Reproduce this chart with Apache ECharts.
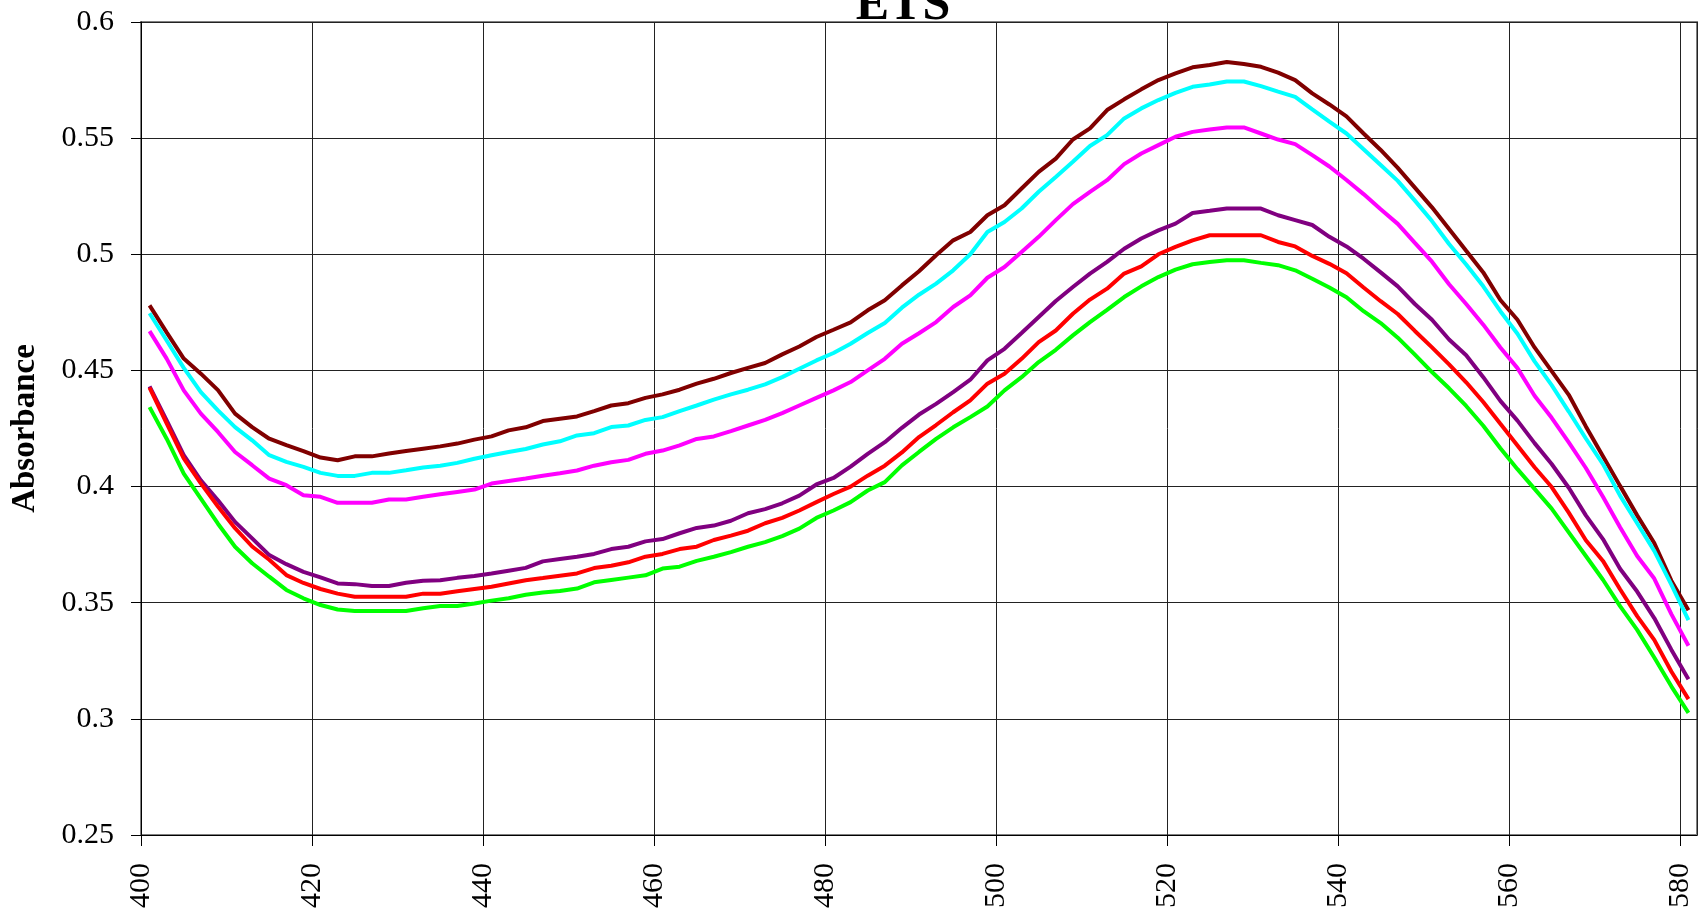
<!DOCTYPE html>
<html>
<head>
<meta charset="utf-8">
<script src="https://cdn.jsdelivr.net/npm/echarts@6/dist/echarts.min.js"></script>
<style>
html,body{margin:0;padding:0;background:#fff;}
#chart{width:1699px;height:913px;}
</style>
</head>
<body>
<div id="chart"></div>
<script>
const titleText = 'ETS';
const yAxisTitle = 'Absorbance';
const xTicks = [400, 420, 440, 460, 480, 500, 520, 540, 560, 580];
const yTicks = [0.25, 0.3, 0.35, 0.4, 0.45, 0.5, 0.55, 0.6];

const wavelength = [
401,403,405,407,409,411,413,415,417,419,421,423,425,427,429,431,433,435,437,439,441,443,445,
447,449,451,453,455,457,459,461,463,465,467,469,471,473,475,477,479,481,483,485,487,489,491,
493,495,497,499,501,503,505,507,509,511,513,515,517,519,521,523,525,527,529,531,533,535,537,
539,541,543,545,547,549,551,553,555,557,559,561,563,565,567,569,571,573,575,577,579,581
];

const darkRed = [
0.478,0.4664,0.4551,0.4486,0.4415,0.4314,0.4256,0.4206,0.4178,0.4153,0.4125,0.4113,0.413,0.413,0.4142,0.4153,0.4163,0.4173,0.4185,0.4202,0.4216,0.4242,0.4255,
0.4282,0.4292,0.4302,0.4325,0.4349,0.4359,0.4382,0.4397,0.4417,0.4443,0.4464,0.4489,0.4511,0.4532,0.4569,0.4603,0.4644,0.4675,0.4707,0.4759,0.4802,0.4866,0.4927,
0.4996,0.506,0.5096,0.5168,0.5211,0.5283,0.5355,0.5412,0.5494,0.5542,0.5621,0.5667,0.571,0.575,0.5779,0.5805,0.5815,0.5828,0.5819,0.5807,0.5782,0.575,0.5693,
0.5645,0.5594,0.552,0.5449,0.5372,0.5287,0.5202,0.5109,0.5015,0.4922,0.4803,0.4718,0.4599,0.4497,0.4395,0.4259,0.4131,0.4003,0.3876,0.3757,0.3595,0.3468
];

const cyan = [
0.4746,0.4629,0.4511,0.4407,0.4328,0.4256,0.4199,0.4135,0.4106,0.4085,0.4059,0.4046,0.4046,0.4059,0.4059,0.407,0.4082,0.409,0.4102,0.412,0.4135,0.4149,0.4162,
0.4181,0.4195,0.422,0.423,0.4256,0.4263,0.4287,0.4299,0.4325,0.4349,0.4374,0.4397,0.4417,0.444,0.4471,0.4507,0.4543,0.4575,0.4615,0.4661,0.4704,0.477,0.4826,
0.4874,0.4931,0.5,0.5096,0.5139,0.5197,0.5269,0.5333,0.5398,0.5466,0.5513,0.5585,0.5628,0.5664,0.5695,0.5721,0.5731,0.5744,0.5744,0.5724,0.57,0.5678,0.5624,
0.5571,0.552,0.5452,0.5384,0.5316,0.5231,0.5143,0.5044,0.4956,0.4862,0.4755,0.4658,0.4539,0.4437,0.4323,0.4207,0.4097,0.3961,0.3842,0.3723,0.3578,0.3425
];

const magenta = [
0.4669,0.4551,0.4414,0.4314,0.4235,0.4149,0.4092,0.4034,0.4006,0.3963,0.3956,0.393,0.393,0.393,0.3944,0.3944,0.3956,0.3967,0.3977,0.3987,0.4013,0.4024,0.4035,
0.4047,0.4057,0.4069,0.409,0.4105,0.4115,0.4141,0.4155,0.4177,0.4205,0.4216,0.4239,0.4263,0.4287,0.4316,0.4349,0.4382,0.4414,0.445,0.45,0.455,0.4615,0.466,
0.4708,0.4773,0.4823,0.4899,0.4945,0.501,0.5075,0.5147,0.5216,0.5269,0.5319,0.5388,0.5434,0.547,0.5506,0.5527,0.5537,0.5546,0.5546,0.552,0.5494,0.5474,0.5427,
0.5378,0.532,0.5259,0.5194,0.5131,0.5049,0.4968,0.4871,0.4786,0.4697,0.4599,0.451,0.4391,0.4296,0.419,0.408,0.3956,0.3825,0.3701,0.3604,0.3451,0.3315
];

const purple = [
0.4431,0.4285,0.4135,0.4027,0.3941,0.3848,0.3777,0.3705,0.3666,0.3633,0.3609,0.3583,0.358,0.3572,0.3572,0.3586,0.3595,0.3597,0.3607,0.3615,0.3626,0.3638,0.365,
0.3678,0.3688,0.3698,0.371,0.3731,0.3741,0.3764,0.3774,0.3799,0.3822,0.3832,0.3853,0.3885,0.3903,0.3928,0.3961,0.4009,0.4037,0.4086,0.4141,0.4191,0.4253,0.431,
0.4356,0.4407,0.446,0.4543,0.4593,0.4661,0.473,0.4799,0.4859,0.4917,0.4967,0.5024,0.5068,0.5103,0.5132,0.5178,0.5187,0.5197,0.5197,0.5197,0.5168,0.5147,0.5126,
0.5075,0.5034,0.4981,0.4922,0.4862,0.4786,0.4718,0.4633,0.4565,0.4471,0.4369,0.4284,0.4187,0.4097,0.3995,0.3876,0.3774,0.3646,0.3548,0.3434,0.3298,0.317
];

const red = [
0.4426,0.4272,0.4121,0.4014,0.3914,0.3821,0.3742,0.3685,0.3619,0.3585,0.3559,0.3539,0.3526,0.3526,0.3526,0.3526,0.3539,0.3539,0.3549,0.3559,0.3569,0.3583,0.3597,
0.3606,0.3616,0.3626,0.3649,0.3659,0.3674,0.3698,0.371,0.3731,0.3741,0.377,0.3789,0.381,0.3842,0.3865,0.3897,0.3933,0.3968,0.4,0.4047,0.409,0.4147,0.4213,
0.4265,0.432,0.4371,0.4443,0.4486,0.455,0.4622,0.4672,0.4744,0.4805,0.4852,0.4917,0.4948,0.5,0.5032,0.506,0.5082,0.5082,0.5082,0.5082,0.5053,0.5034,0.4993,
0.4959,0.4918,0.4857,0.4798,0.4743,0.467,0.4599,0.4526,0.4449,0.4364,0.427,0.4177,0.4083,0.3998,0.3888,0.3769,0.368,0.3558,0.3442,0.334,0.3204,0.3085
];

const green = [
0.4342,0.4206,0.4056,0.3948,0.384,0.3741,0.367,0.3612,0.3555,0.3519,0.349,0.3471,0.3464,0.3464,0.3464,0.3464,0.3476,0.3486,0.3486,0.3497,0.3509,0.3519,0.3534,
0.3544,0.355,0.3561,0.3588,0.3598,0.3608,0.3618,0.3647,0.3655,0.368,0.3698,0.3718,0.3741,0.3761,0.3787,0.3819,0.3865,0.3897,0.3933,0.3983,0.4019,0.4091,0.4149,
0.4205,0.4255,0.4299,0.4345,0.4414,0.4471,0.4536,0.4589,0.4651,0.4708,0.4761,0.4816,0.4862,0.4902,0.4934,0.4957,0.4967,0.4974,0.4974,0.4963,0.4953,0.4931,0.4895,
0.4857,0.4815,0.4755,0.4704,0.4641,0.4568,0.4493,0.4423,0.4347,0.4262,0.4165,0.4075,0.399,0.3905,0.3803,0.3701,0.3599,0.3485,0.3383,0.3264,0.314,0.3026
];

const seriesDefs = [
  {name: 'S1', data: darkRed, color: '#800000'},
  {name: 'S2', data: cyan, color: '#00FFFF'},
  {name: 'S3', data: magenta, color: '#FF00FF'},
  {name: 'S4', data: purple, color: '#800080'},
  {name: 'S5', data: red, color: '#FF0000'},
  {name: 'S6', data: green, color: '#00FF00'}
];

const chart = echarts.init(document.getElementById('chart'), null, {renderer: 'canvas'});
const serif = '"Liberation Serif", "Times New Roman", serif';

chart.setOption({
  animation: false,
  backgroundColor: '#ffffff',
  grid: {
    left: 141, right: 2, top: 22, bottom: 78,
    show: true, borderColor: '#808080', borderWidth: 2, backgroundColor: 'transparent'
  },
  graphic: [{
    type: 'text', x: 903, y: 6, z: 100,
    style: {text: titleText, font: 'bold 50px ' + serif, fill: '#000', align: 'center', verticalAlign: 'middle'}
  }],
  xAxis: {
    type: 'value', min: xTicks[0], max: 582, interval: 20,
    axisLine: {show: true, lineStyle: {color: '#000', width: 1}},
    axisTick: {show: true, length: 11, lineStyle: {color: '#000'}},
    axisLabel: {
      rotate: 90, margin: 28, color: '#000', fontFamily: serif, fontSize: 30,
      showMaxLabel: false,
      formatter: v => xTicks.includes(v) ? String(v) : ''
    },
    splitLine: {show: true, lineStyle: {color: '#222', width: 1}}
  },
  yAxis: {
    type: 'value', min: yTicks[0], max: yTicks[yTicks.length - 1], interval: 0.05,
    name: yAxisTitle, nameLocation: 'middle', nameRotate: 90, nameGap: 99,
    nameTextStyle: {fontFamily: serif, fontWeight: 'bold', fontSize: 33, color: '#000'},
    axisLine: {show: true, lineStyle: {color: '#000', width: 1}},
    axisTick: {show: true, length: 10, lineStyle: {color: '#000'}},
    axisLabel: {
      margin: 27, color: '#000', fontFamily: serif, fontSize: 30,
      formatter: v => String(parseFloat(v.toFixed(2)))
    },
    splitLine: {show: true, lineStyle: {color: '#222', width: 1}}
  },
  series: seriesDefs.map(s => ({
    name: s.name, type: 'line',
    data: wavelength.map((x, i) => [x, s.data[i]]),
    showSymbol: false, symbol: 'none',
    lineStyle: {color: s.color, width: 4},
    itemStyle: {color: s.color}
  }))
});
</script>
</body>
</html>
